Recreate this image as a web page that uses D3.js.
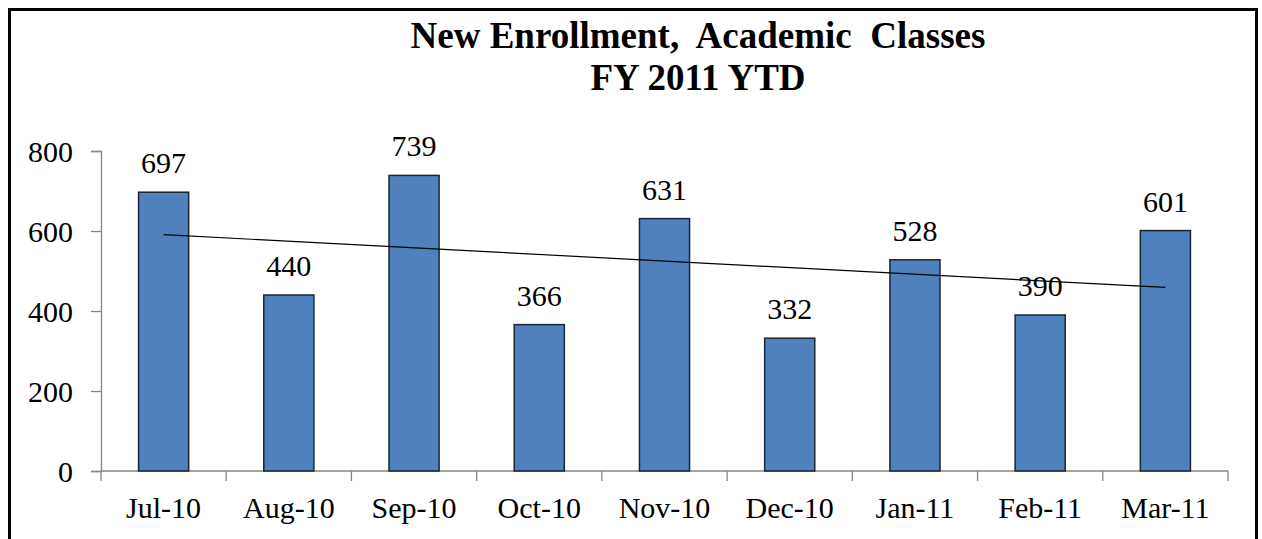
<!DOCTYPE html>
<html>
<head>
<meta charset="utf-8">
<script src="https://cdn.jsdelivr.net/npm/d3@7"></script>
<style>
  html, body { margin: 0; padding: 0; background: #fff; }
  svg { display: block; }
</style>
</head>
<body>
<svg id="chart" width="1262" height="539"></svg>
<script>
const categories = ["Jul-10", "Aug-10", "Sep-10", "Oct-10", "Nov-10", "Dec-10", "Jan-11", "Feb-11", "Mar-11"];
const values = [697, 440, 739, 366, 631, 332, 528, 390, 601];
const yTicks = [0, 200, 400, 600, 800];
const titleLines = ["New Enrollment,  Academic  Classes", "FY 2011 YTD"];

const FONT = "'Liberation Serif', 'Times New Roman', serif";
const svg = d3.select("#chart");

// frame
svg.append("rect")
  .attr("x", 9.5).attr("y", 9.5)
  .attr("width", 1247).attr("height", 600)
  .attr("fill", "#fff").attr("stroke", "#000").attr("stroke-width", 3);

const plot = { left: 101, right: 1228, top: 151, bottom: 471 };

const x = d3.scaleBand().domain(categories).range([plot.left, plot.right]).paddingInner(0.6).paddingOuter(0.3);
const xOuter = d3.scaleBand().domain(categories).range([plot.left, plot.right]).padding(0);
const y = d3.scaleLinear().domain([0, 800]).range([plot.bottom, plot.top]);

// title
svg.append("text")
  .attr("x", 698).attr("y", 48)
  .attr("text-anchor", "middle")
  .style("font-family", FONT).style("font-size", "37px").style("font-weight", "bold")
  .style("white-space", "pre")
  .text(titleLines[0]);
svg.append("text")
  .attr("x", 698).attr("y", 90)
  .attr("text-anchor", "middle")
  .style("font-family", FONT).style("font-size", "37px").style("font-weight", "bold")
  .text(titleLines[1]);

// y axis
const yAxis = d3.axisLeft(y).tickValues(yTicks).tickSize(10).tickPadding(18).tickFormat(d3.format("d"));
const gy = svg.append("g").attr("transform", `translate(${plot.left},0)`).call(yAxis);
gy.attr("font-family", null).attr("font-size", null);
gy.select(".domain").attr("stroke", "#868686").attr("stroke-width", 1.3);
gy.selectAll(".tick line").attr("stroke", "#868686").attr("stroke-width", 1.3);
gy.selectAll(".tick text").attr("fill", "#000")
  .style("font-family", FONT).style("font-size", "30px").attr("dy", "0.34em");

// x axis (ticks at category boundaries)
const gx = svg.append("g").attr("transform", `translate(0,${plot.bottom})`);
gx.append("line").attr("x1", plot.left).attr("x2", plot.right).attr("y1", 0).attr("y2", 0)
  .attr("stroke", "#868686").attr("stroke-width", 1.3);
const boundaries = categories.map(c => xOuter(c)).concat([plot.right]);
gx.selectAll("line.bt").data(boundaries).join("line").attr("class", "bt")
  .attr("x1", d => d).attr("x2", d => d).attr("y1", 0).attr("y2", 10)
  .attr("stroke", "#868686").attr("stroke-width", 1.3);
gx.selectAll("text.cat").data(categories).join("text").attr("class", "cat")
  .attr("x", d => xOuter(d) + xOuter.bandwidth() / 2)
  .attr("y", 47)
  .attr("text-anchor", "middle")
  .style("font-family", FONT).style("font-size", "30px")
  .text(d => d);

// bars
const data = categories.map((c, i) => ({ c, v: values[i] }));
svg.selectAll("rect.bar").data(data).join("rect").attr("class", "bar")
  .attr("x", d => x(d.c))
  .attr("y", d => y(d.v))
  .attr("width", x.bandwidth())
  .attr("height", d => y(0) - y(d.v))
  .attr("fill", "#4F81BD")
  .attr("stroke", "#1c2433").attr("stroke-width", 1.5);

// value labels
svg.selectAll("text.val").data(data).join("text").attr("class", "val")
  .attr("x", d => x(d.c) + x.bandwidth() / 2)
  .attr("y", d => y(d.v) - 19)
  .attr("text-anchor", "middle")
  .style("font-family", FONT).style("font-size", "30px")
  .text(d => d.v);

// linear trendline (least squares)
const n = values.length;
const xs = d3.range(1, n + 1);
const mx = d3.mean(xs), my = d3.mean(values);
const slope = d3.sum(xs.map((xi, i) => (xi - mx) * (values[i] - my))) / d3.sum(xs.map(xi => (xi - mx) ** 2));
const icpt = my - slope * mx;
const trend = [1, n].map(k => ({ c: categories[k - 1], v: icpt + slope * k }));
svg.append("path")
  .datum(trend)
  .attr("d", d3.line().x(d => x(d.c) + x.bandwidth() / 2).y(d => y(d.v)))
  .attr("fill", "none").attr("stroke", "#000").attr("stroke-width", 1.2);
</script>
</body>
</html>
